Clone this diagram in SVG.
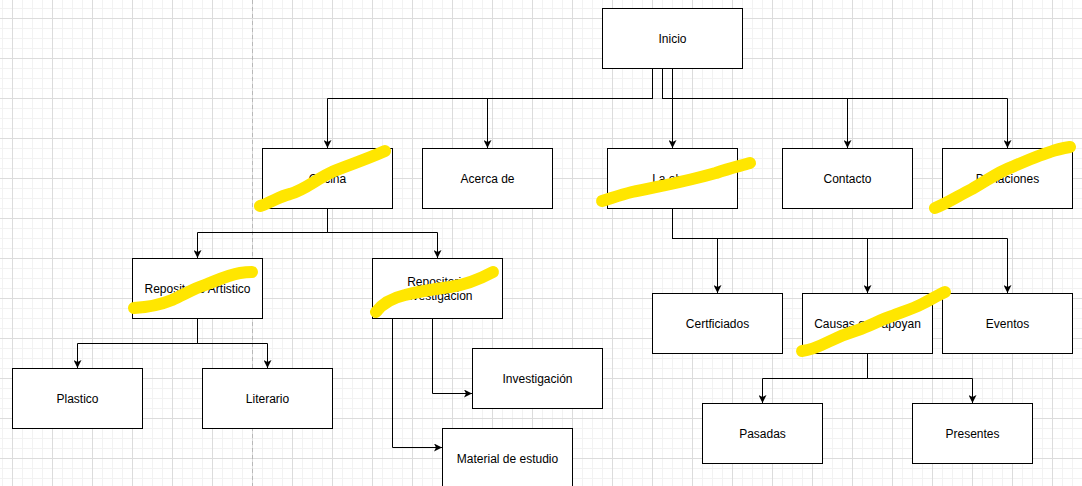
<svg xmlns="http://www.w3.org/2000/svg" width="1082" height="486" viewBox="0 0 1082 486">
  <defs>
    <pattern id="grid" x="12" y="18" width="40" height="40" patternUnits="userSpaceOnUse">
      <path d="M10.5 0V40M20.5 0V40M30.5 0V40M0 10.5H40M0 20.5H40M0 30.5H40" stroke="#f2f2f2" stroke-width="1" fill="none"/>
      <path d="M0.5 0V40M0 0.5H40" stroke="#dcdcdc" stroke-width="1" fill="none"/>
    </pattern>
    <marker id="arr" viewBox="0 0 10 10" refX="10" refY="5" markerWidth="8" markerHeight="8" markerUnits="userSpaceOnUse" orient="auto">
      <path d="M0 0L10 5L0 10L2.5 5Z" fill="#000"/>
    </marker>
    <style>
      .box{fill:#fff;stroke:#000;stroke-width:1}
      .lbl{font-family:"Liberation Sans",Arial,sans-serif;font-size:12px;fill:#000;text-anchor:middle}
      .edge{fill:none;stroke:#000;stroke-width:1}
      .arrow{marker-end:url(#arr)}
      .hl{fill:none;stroke:#ffe600;stroke-width:12;stroke-linecap:round;stroke-linejoin:round}
    </style>
  </defs>
  <rect width="1082" height="486" fill="#fff"/>
  <rect width="1082" height="486" fill="url(#grid)"/>
  <line x1="252.5" y1="0" x2="252.5" y2="486" stroke="#b8b8b8" stroke-dasharray="4 3"/>

  <g id="connectors">
    <path class="edge arrow" d="M652.5 68V98.5H327.5V148"/>
    <path class="edge arrow" d="M652.5 68V98.5H487.5V148"/>
    <path class="edge arrow" d="M672.5 68V148"/>
    <path class="edge arrow" d="M662.5 68V98.5H847.5V148"/>
    <path class="edge arrow" d="M662.5 68V98.5H1007.5V148"/>
    <path class="edge arrow" d="M327.5 208V232.5H197.5V258"/>
    <path class="edge arrow" d="M327.5 208V232.5H437.5V258"/>
    <path class="edge arrow" d="M197.5 318V343.5H77.5V368"/>
    <path class="edge arrow" d="M197.5 318V343.5H267.5V368"/>
    <path class="edge arrow" d="M432.5 318V393.5H472"/>
    <path class="edge arrow" d="M392.5 318V447.5H442"/>
    <path class="edge arrow" d="M672.5 208V238.5H717.5V293"/>
    <path class="edge arrow" d="M672.5 208V238.5H867.5V293"/>
    <path class="edge arrow" d="M672.5 208V238.5H1007.5V293"/>
    <path class="edge arrow" d="M867.5 353V378.5H762.5V403"/>
    <path class="edge arrow" d="M867.5 353V378.5H972.5V403"/>
  </g>

  <g id="inicio"><rect class="box" x="602.5" y="8.5" width="140" height="60"/><text class="lbl" x="672.5" y="42.5">Inicio</text></g>
  <g id="oficina"><rect class="box" x="262.5" y="148.5" width="130" height="60"/><text class="lbl" x="327.5" y="182.5">Oficina</text></g>
  <g id="acerca"><rect class="box" x="422.5" y="148.5" width="130" height="60"/><text class="lbl" x="487.5" y="182.5">Acerca de</text></g>
  <g id="laobra"><rect class="box" x="607.5" y="148.5" width="130" height="60"/><text class="lbl" x="672.5" y="182.5">La obra</text></g>
  <g id="contacto"><rect class="box" x="782.5" y="148.5" width="130" height="60"/><text class="lbl" x="847.5" y="182.5">Contacto</text></g>
  <g id="donaciones"><rect class="box" x="942.5" y="148.5" width="130" height="60"/><text class="lbl" x="1007.5" y="182.5">Donaciones</text></g>
  <g id="rep-artistico"><rect class="box" x="132.5" y="258.5" width="130" height="60"/><text class="lbl" x="197.5" y="292.5">Repositorio Artistico</text></g>
  <g id="rep-investigacion"><rect class="box" x="372.5" y="258.5" width="130" height="60"/><text class="lbl" x="437.5" y="285.5">Repositorio</text><text class="lbl" x="437.5" y="299.5">Investigacion</text></g>
  <g id="plastico"><rect class="box" x="12.5" y="368.5" width="130" height="60"/><text class="lbl" x="77.5" y="402.5">Plastico</text></g>
  <g id="literario"><rect class="box" x="202.5" y="368.5" width="130" height="60"/><text class="lbl" x="267.5" y="402.5">Literario</text></g>
  <g id="investigacion"><rect class="box" x="472.5" y="348.5" width="130" height="60"/><text class="lbl" x="537.5" y="382.5">Investigación</text></g>
  <g id="material"><rect class="box" x="442.5" y="428.5" width="130" height="60"/><text class="lbl" x="507.5" y="462.5">Material de estudio</text></g>
  <g id="certificados"><rect class="box" x="652.5" y="293.5" width="130" height="60"/><text class="lbl" x="717.5" y="327.5">Certficiados</text></g>
  <g id="causas"><rect class="box" x="802.5" y="293.5" width="130" height="60"/><text class="lbl" x="867.5" y="327.5">Causas que apoyan</text></g>
  <g id="eventos"><rect class="box" x="942.5" y="293.5" width="130" height="60"/><text class="lbl" x="1007.5" y="327.5">Eventos</text></g>
  <g id="pasadas"><rect class="box" x="702.5" y="403.5" width="120" height="60"/><text class="lbl" x="762.5" y="437.5">Pasadas</text></g>
  <g id="presentes"><rect class="box" x="912.5" y="403.5" width="120" height="60"/><text class="lbl" x="972.5" y="437.5">Presentes</text></g>

  <g id="highlights">
    <path class="hl" d="M260 206C272 202 280 196 290 194C305 190 318 178 332 172C345 166 360 162 385 151"/>
    <path class="hl" d="M602 201C612 198 620 195 632 192C650 188 668 185 684 181C698 178 705 176 716 173C730 168 740 166 750 163"/>
    <path class="hl" d="M935 208C948 203 958 196 972 189C988 180 998 172 1012 167C1028 160 1040 155 1050 152C1058 149 1064 148 1070 147"/>
    <path class="hl" d="M134 308C150 307 160 305 172 300C185 294 195 288 205 285C218 280 228 275 240 273C246 272 250 272 252 272"/>
    <path class="hl" d="M376 312C382 304 392 298 405 295C420 291 435 289 450 287C465 285 478 280 493 272"/>
    <path class="hl" d="M802 351C812 350 820 346 828 342C840 336 848 333 858 330C870 326 880 320 892 316C905 311 912 309 922 304C932 299 938 295 945 292"/>
  </g>
</svg>
